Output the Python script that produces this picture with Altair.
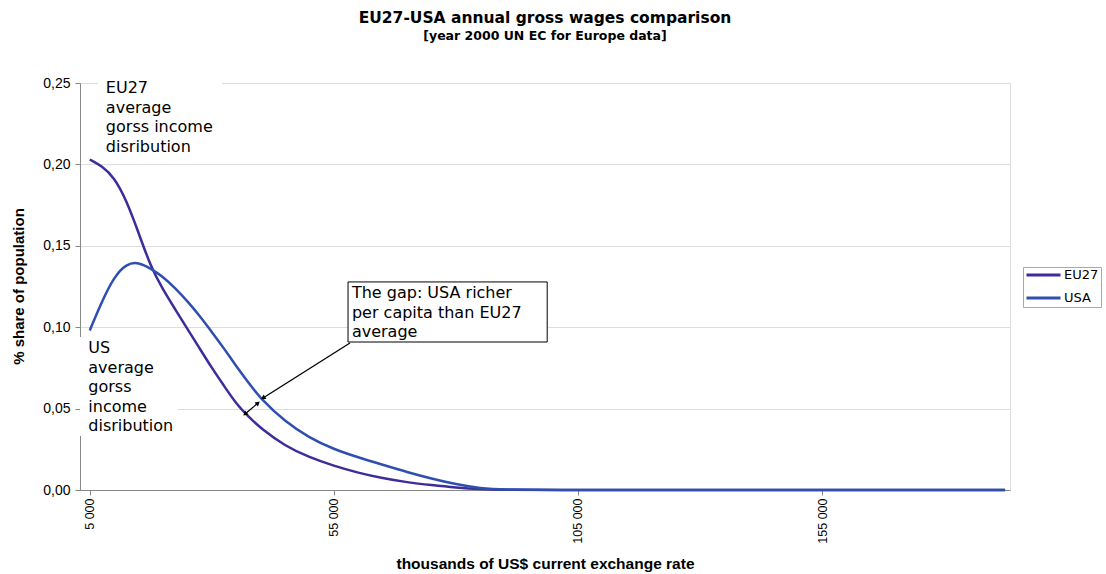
import altair as alt
import pandas as pd

# Annual gross wage brackets (US$) and share of population in each bracket
wages = [5000, 7500, 10000, 12500, 15000, 17500, 20000, 22500, 25000, 27500,
         30000, 32500, 35000, 37500, 40000, 45000, 50000, 55000, 60000, 65000,
         70000, 75000, 80000, 85000, 90000, 100000, 120000, 140000, 160000,
         180000, 192500]
eu27 = [0.203, 0.199, 0.192, 0.178, 0.158, 0.137, 0.123, 0.111, 0.099, 0.087,
        0.075, 0.064, 0.053, 0.045, 0.038, 0.027, 0.020, 0.0148, 0.0105, 0.0072,
        0.0047, 0.0030, 0.0015, 0.0005, 0.0002, 0.0, 0.0, 0.0, 0.0,
        0.0, 0.0]
usa = [0.098, 0.116, 0.131, 0.139, 0.140, 0.136, 0.131, 0.124, 0.116, 0.107,
       0.097, 0.087, 0.076, 0.066, 0.056, 0.042, 0.032, 0.025, 0.020, 0.0155,
       0.011, 0.007, 0.0035, 0.001, 0.0003, 0.0, 0.0, 0.0, 0.0,
       0.0, 0.0]

series_names = ["EU27", "USA"]
series_colors = ["#3c2d9b", "#2f4fb0"]

x_ticks = [5000, 55000, 105000, 155000]
y_ticks = [0.0, 0.05, 0.10, 0.15, 0.20, 0.25]

# Annotation texts (data coordinates of their top-left corner)
note_text = [
    "EU27\naverage\ngorss income\ndisribution",
    "US\naverage\ngorss\nincome\ndisribution",
    "The gap: USA richer\nper capita than EU27\naverage",
]
note_x = [8300, 4700, 58700]
note_y = [0.2516, 0.0919, 0.1257]

# Backing boxes behind the annotations (white; the gap box is outlined)
box_x = [6690, 3000, 57900]
box_x2 = [32090, 23080, 98700]
box_y = [0.2531, 0.0940, 0.1278]
box_y2 = [0.2045, 0.0332, 0.0909]
box_stroke = [0, 0, 1]

# Arrow shafts: callout arrow and the double arrow between the curves
arrow_x = [58300, 39460]
arrow_y = [0.0903, 0.0534]
arrow_x2 = [40490, 36800]
arrow_y2 = [0.0565, 0.0467]

# Arrow heads (position and pointing direction in degrees)
head_x = [40490, 36800, 39460]
head_y = [0.0565, 0.0467, 0.0534]
head_angle = [238, 230, 50]

rows = []
for name, values in zip(series_names, [eu27, usa]):
    for w, v in zip(wages, values):
        rows.append({"wage": w, "share": v, "series": name})
lines_df = pd.DataFrame(rows)

notes_df = pd.DataFrame({"wage": note_x, "share": note_y, "label": note_text})
boxes_df = pd.DataFrame({"wage": box_x, "wage2": box_x2, "share": box_y,
                         "share2": box_y2, "sw": box_stroke})
arrows_df = pd.DataFrame({"wage": arrow_x, "share": arrow_y,
                          "wage2": arrow_x2, "share2": arrow_y2})
heads_df = pd.DataFrame({"wage": head_x, "share": head_y, "angle": head_angle})

x_scale = alt.Scale(domain=[3000, 193500], nice=False, zero=False)
y_scale = alt.Scale(domain=[0, 0.25], nice=False)

lines = alt.Chart(lines_df).mark_line(strokeWidth=2.5, interpolate="basis").encode(
    x=alt.X("wage:Q", scale=x_scale,
            axis=alt.Axis(values=x_ticks, grid=False,
                          title="thousands of US$ current exchange rate",
                          labelAngle=270, labelAlign="right", labelBaseline="middle",
                          labelExpr="replace(format(datum.value, ','), ',', ' ')",
                          labelFontSize=12.5, labelPadding=3,
                          titleX=465, titleY=73, titleBaseline="middle",
                          titleAlign="center", titleFontSize=15.5)),
    y=alt.Y("share:Q", scale=y_scale,
            axis=alt.Axis(values=y_ticks, grid=True,
                          title="% share of population",
                          labelExpr="replace(format(datum.value, '.2f'), '.', ',')",
                          labelFontSize=14, labelPadding=5,
                          titleX=-62, titleY=203, titleBaseline="middle",
                          titleAlign="center", titleAngle=270, titleFontSize=15)),
    color=alt.Color("series:N",
                    scale=alt.Scale(domain=series_names, range=series_colors),
                    legend=alt.Legend(title=None, orient="none", legendX=943,
                                      legendY=184, symbolType="stroke",
                                      symbolSize=1156, symbolStrokeWidth=3,
                                      clipHeight=12, rowPadding=10, padding=2,
                                      labelOffset=2, labelFontSize=13,
                                      labelFont="DejaVu Sans", labelColor="black",
                                      strokeColor="#a8a8a8", fillColor="white")),
)

boxes = alt.Chart(boxes_df).mark_rect(fill="white", stroke="black").encode(
    x="wage:Q", x2="wage2:Q", y="share:Q", y2="share2:Q",
    strokeWidth=alt.StrokeWidth("sw:Q", scale=None),
)

arrows = alt.Chart(arrows_df).mark_rule(color="black", strokeWidth=1.3).encode(
    x="wage:Q", y="share:Q", x2="wage2:Q", y2="share2:Q",
)

heads = alt.Chart(heads_df).mark_point(shape="triangle-up", filled=True,
                                       size=28, color="black", opacity=1).encode(
    x="wage:Q", y="share:Q", angle=alt.Angle("angle:Q", scale=None),
)

notes = alt.Chart(notes_df).mark_text(align="left", baseline="top", lineBreak="\n",
                                      lineHeight=19.5, font="DejaVu Sans",
                                      fontSize=16, color="black").encode(
    x="wage:Q", y="share:Q", text="label:N",
)

chart = alt.layer(boxes, lines, arrows, heads, notes).properties(
    width=930,
    height=407,
    autosize=alt.AutoSizeParams(type="none"),
    padding={"left": 80, "top": 83, "right": 96, "bottom": 84},
    title=alt.Title(text="EU27-USA annual gross wages comparison",
                    subtitle="[year 2000 UN EC for Europe data]",
                    font="DejaVu Sans", fontSize=15.5, fontWeight="bold",
                    subtitleFont="DejaVu Sans", subtitleFontSize=12.5,
                    subtitleFontWeight="bold", subtitleColor="black",
                    color="black", anchor="middle", frame="group",
                    offset=34, subtitlePadding=3),
).configure_view(
    stroke="#a0a0a0", strokeWidth=1.5,
).configure_axis(
    labelFont="DejaVu Sans", labelColor="black",
    titleFont="DejaVu Sans Condensed", titleFontWeight="bold",
    titleColor="black",
    domainColor="#7a7a7a", domainWidth=2,
    tickColor="#7a7a7a", tickSize=5, tickWidth=1.5,
    gridColor="#8c8c8c", gridWidth=1.3,
).configure(background="white")

chart.save("out.html", embed_options={"renderer": "svg", "actions": False})
